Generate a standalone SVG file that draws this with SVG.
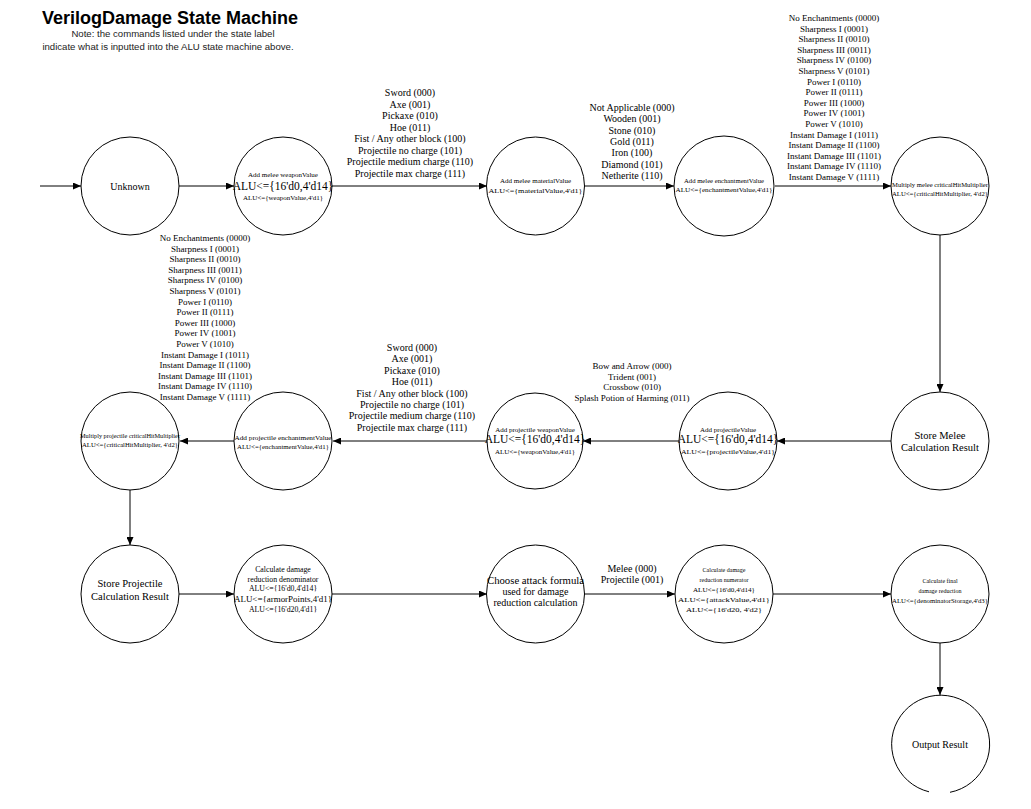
<svg xmlns="http://www.w3.org/2000/svg" width="1031" height="809" viewBox="0 0 1031 809">
<defs>
<marker id="arr" markerWidth="8" markerHeight="7" refX="8" refY="3.5" orient="auto" markerUnits="userSpaceOnUse">
<path d="M0,0 L8,3.5 L0,7 z" fill="#000"/>
</marker>
<style>
.c{fill:#fff;stroke:#000;stroke-width:1}
.e{fill:none;stroke:#000;stroke-width:1;marker-end:url(#arr)}
text{font-family:"Liberation Serif","DejaVu Serif",serif;fill:#000;text-anchor:middle}
.t{font-family:"Liberation Sans",Arial,sans-serif;font-weight:bold;font-size:18px}
.n{font-family:"Liberation Sans",Arial,sans-serif;font-size:9.6px;fill:#222}
.m{font-size:10.5px}
.l{font-size:10px}
.s{font-size:9px}
.d{font-size:7.8px}
.xs{font-size:7px}
.xxs{font-size:6px}
.b{font-size:11.5px}
</style>
</defs>
<rect width="1031" height="809" fill="#fff"/>
<text class="t" x="170" y="24">VerilogDamage State Machine</text>
<text class="n" x="173" y="37">Note: the commands listed under the state label</text>
<text class="n" x="168" y="50">indicate what is inputted into the ALU state machine above.</text>

<g id="connectors">
<line class="e" x1="40" y1="186" x2="81" y2="186"/>
<line class="e" x1="179" y1="186" x2="234" y2="186"/>
<line class="e" x1="332" y1="186" x2="487" y2="186"/>
<line class="e" x1="584" y1="186" x2="674" y2="186"/>
<line class="e" x1="775" y1="186" x2="891" y2="186"/>
<line class="e" x1="940" y1="235" x2="940" y2="392"/>
<line class="e" x1="891" y1="441" x2="777" y2="441"/>
<line class="e" x1="679" y1="441" x2="583" y2="441"/>
<line class="e" x1="487" y1="441" x2="333" y2="441"/>
<line class="e" x1="234" y1="441" x2="180" y2="441"/>
<line class="e" x1="130" y1="490" x2="130" y2="545"/>
<line class="e" x1="179" y1="594" x2="234" y2="594"/>
<line class="e" x1="332" y1="594" x2="487" y2="594"/>
<line class="e" x1="584" y1="594" x2="675" y2="594"/>
<line class="e" x1="773" y1="594" x2="891" y2="594"/>
<line class="e" x1="940" y1="643" x2="940" y2="695"/>
<g class="l">
<text x="410" y="96">Sword (000)</text>
<text x="410" y="107.5">Axe (001)</text>
<text x="410" y="119">Pickaxe (010)</text>
<text x="410" y="130.5">Hoe (011)</text>
<text x="410" y="142">Fist / Any other block (100)</text>
<text x="410" y="153.5">Projectile no charge (101)</text>
<text x="410" y="165">Projectile medium charge (110)</text>
<text x="410" y="176.5">Projectile max charge (111)</text>
</g>
<g class="l">
<text x="632" y="111">Not Applicable (000)</text>
<text x="632" y="122.3">Wooden (001)</text>
<text x="632" y="133.6">Stone (010)</text>
<text x="632" y="144.9">Gold (011)</text>
<text x="632" y="156.2">Iron (100)</text>
<text x="632" y="167.5">Diamond (101)</text>
<text x="632" y="178.8">Netherite (110)</text>
</g>
<g class="s">
<text x="834" y="21">No Enchantments (0000)</text>
<text x="834" y="31.6">Sharpness I (0001)</text>
<text x="834" y="42.2">Sharpness II (0010)</text>
<text x="834" y="52.8">Sharpness III (0011)</text>
<text x="834" y="63.4">Sharpness IV (0100)</text>
<text x="834" y="74">Sharpness V (0101)</text>
<text x="834" y="84.6">Power I (0110)</text>
<text x="834" y="95.2">Power II (0111)</text>
<text x="834" y="105.8">Power III (1000)</text>
<text x="834" y="116.4">Power IV (1001)</text>
<text x="834" y="127">Power V (1010)</text>
<text x="834" y="137.6">Instant Damage I (1011)</text>
<text x="834" y="148.2">Instant Damage II (1100)</text>
<text x="834" y="158.8">Instant Damage III (1101)</text>
<text x="834" y="169.4">Instant Damage IV (1110)</text>
<text x="834" y="180">Instant Damage V (1111)</text>
</g>
<g class="s">
<text x="205" y="241">No Enchantments (0000)</text>
<text x="205" y="251.6">Sharpness I (0001)</text>
<text x="205" y="262.2">Sharpness II (0010)</text>
<text x="205" y="272.8">Sharpness III (0011)</text>
<text x="205" y="283.4">Sharpness IV (0100)</text>
<text x="205" y="294">Sharpness V (0101)</text>
<text x="205" y="304.6">Power I (0110)</text>
<text x="205" y="315.2">Power II (0111)</text>
<text x="205" y="325.8">Power III (1000)</text>
<text x="205" y="336.4">Power IV (1001)</text>
<text x="205" y="347">Power V (1010)</text>
<text x="205" y="357.6">Instant Damage I (1011)</text>
<text x="205" y="368.2">Instant Damage II (1100)</text>
<text x="205" y="378.8">Instant Damage III (1101)</text>
<text x="205" y="389.4">Instant Damage IV (1110)</text>
<text x="205" y="400">Instant Damage V (1111)</text>
</g>
<g class="l">
<text x="412" y="351">Sword (000)</text>
<text x="412" y="362.4">Axe (001)</text>
<text x="412" y="373.8">Pickaxe (010)</text>
<text x="412" y="385.2">Hoe (011)</text>
<text x="412" y="396.6">Fist / Any other block (100)</text>
<text x="412" y="408">Projectile no charge (101)</text>
<text x="412" y="419.4">Projectile medium charge (110)</text>
<text x="412" y="430.8">Projectile max charge (111)</text>
</g>
<g class="s">
<text x="632" y="369">Bow and Arrow (000)</text>
<text x="632" y="379.7">Trident (001)</text>
<text x="632" y="390.4">Crossbow (010)</text>
<text x="632" y="401.1">Splash Potion of Harming (011)</text>
</g>
<g class="l">
<text x="632" y="572">Melee (000)</text>
<text x="632" y="583">Projectile (001)</text>
</g>
</g>

<g id="n-unknown"><circle class="c" cx="130" cy="186" r="49"/><text class="l" x="130" y="189.5">Unknown</text></g>
<g id="n-melee-weapon"><circle class="c" cx="283" cy="186" r="49"/>
<text class="xs" x="283" y="177">Add melee weaponValue</text>
<text class="b" x="283" y="190">ALU&lt;={16'd0,4'd14}</text>
<text class="xs" x="283" y="199.5">ALU&lt;={weaponValue,4'd1}</text></g>
<g id="n-melee-material"><circle class="c" cx="535.5" cy="186" r="49"/>
<text class="xs" x="535.5" y="183">Add melee materialValue</text>
<text class="xs" x="535.5" y="192.5" textLength="94" lengthAdjust="spacingAndGlyphs">ALU&lt;={materialValue,4'd1}</text></g>
<g id="n-melee-ench"><circle class="c" cx="724" cy="186" r="50"/>
<text class="xxs" x="724" y="183" textLength="80" lengthAdjust="spacingAndGlyphs">Add melee enchantmentValue</text>
<text class="xxs" x="724" y="192" textLength="97" lengthAdjust="spacingAndGlyphs">ALU&lt;={enchantmentValue,4'd1}</text></g>
<g id="n-melee-crit"><circle class="c" cx="940" cy="186" r="49"/>
<text class="xxs" x="940" y="187" textLength="96" lengthAdjust="spacingAndGlyphs">Multiply melee criticalHitMultiplier</text>
<text class="xxs" x="940" y="196" textLength="96" lengthAdjust="spacingAndGlyphs">ALU&lt;={criticalHitMultiplier, 4'd2}</text></g>

<g id="n-store-melee"><circle class="c" cx="940" cy="441" r="49"/>
<text class="m" x="940" y="438.5">Store Melee</text>
<text class="m" x="940" y="450.5">Calculation Result</text></g>
<g id="n-proj-value"><circle class="c" cx="728" cy="441" r="49"/>
<text class="xs" x="728" y="431.5">Add projectileValue</text>
<text class="b" x="728" y="443">ALU&lt;={16'd0,4'd14}</text>
<text class="xs" x="728" y="453.5" textLength="94" lengthAdjust="spacingAndGlyphs">ALU&lt;={projectileValue,4'd1}</text></g>
<g id="n-proj-weapon"><circle class="c" cx="535" cy="441" r="48"/>
<text class="xs" x="535" y="431.5">Add projectile weaponValue</text>
<text class="b" x="535" y="443">ALU&lt;={16'd0,4'd14}</text>
<text class="xs" x="535" y="453.5">ALU&lt;={weaponValue,4'd1}</text></g>
<g id="n-proj-ench"><circle class="c" cx="283" cy="441" r="49"/>
<text class="xxs" x="283" y="439.5" textLength="97" lengthAdjust="spacingAndGlyphs">Add projectile enchantmentValue</text>
<text class="xxs" x="283" y="449" textLength="92" lengthAdjust="spacingAndGlyphs">ALU&lt;={enchantmentValue,4'd1}</text></g>
<g id="n-proj-crit"><circle class="c" cx="130" cy="441" r="49"/>
<text class="xxs" x="130" y="437.5" textLength="100" lengthAdjust="spacingAndGlyphs">Multiply projectile criticalHitMultiplier</text>
<text class="xxs" x="130" y="447" textLength="96" lengthAdjust="spacingAndGlyphs">ALU&lt;={criticalHitMultiplier, 4'd2}</text></g>

<g id="n-store-proj"><circle class="c" cx="130" cy="594" r="49"/>
<text class="m" x="130" y="586.5">Store Projectile</text>
<text class="m" x="130" y="599.5">Calculation Result</text></g>
<g id="n-denom"><circle class="c" cx="283" cy="594" r="49"/>
<text class="d" x="283" y="571.5">Calculate damage</text>
<text class="d" x="283" y="581.5">reduction denominator</text>
<text class="d" x="283" y="591">ALU&lt;={16'd0,4'd14}</text>
<text class="d" x="283" y="601.5" textLength="98" lengthAdjust="spacingAndGlyphs">ALU&lt;={armorPoints,4'd1}</text>
<text class="d" x="283" y="611.5">ALU&lt;={16'd20,4'd1}</text></g>
<g id="n-choose"><circle class="c" cx="535.5" cy="594" r="49"/>
<text class="l" x="535.5" y="583.5" textLength="97" lengthAdjust="spacingAndGlyphs">Choose attack formula</text>
<text class="l" x="535.5" y="594.5">used for damage</text>
<text class="l" x="535.5" y="605.5">reduction calculation</text></g>
<g id="n-numer"><circle class="c" cx="724" cy="594" r="49"/>
<text class="xxs" x="724" y="572">Calculate damage</text>
<text class="xxs" x="724" y="582">reduction numerator</text>
<text class="xxs" x="724" y="592" textLength="62" lengthAdjust="spacingAndGlyphs">ALU&lt;={16'd0,4'd14}</text>
<text class="xxs" x="724" y="602" textLength="92" lengthAdjust="spacingAndGlyphs">ALU&lt;={attackValue,4'd1}</text>
<text class="xxs" x="724" y="612" textLength="76" lengthAdjust="spacingAndGlyphs">ALU&lt;={16'd20, 4'd2}</text></g>
<g id="n-final"><circle class="c" cx="940" cy="594" r="49"/>
<text class="xxs" x="940" y="583">Calculate final</text>
<text class="xxs" x="940" y="593">damage reduction</text>
<text class="xxs" x="940" y="602.5" textLength="96" lengthAdjust="spacingAndGlyphs">ALU&lt;={denominatorStorage,4'd3}</text></g>
<g id="n-output"><path class="c" d="M950,792.3 A49,49 0 1 0 929,791.8"/>
<text class="l" x="940" y="747.5">Output Result</text></g>
</svg>
